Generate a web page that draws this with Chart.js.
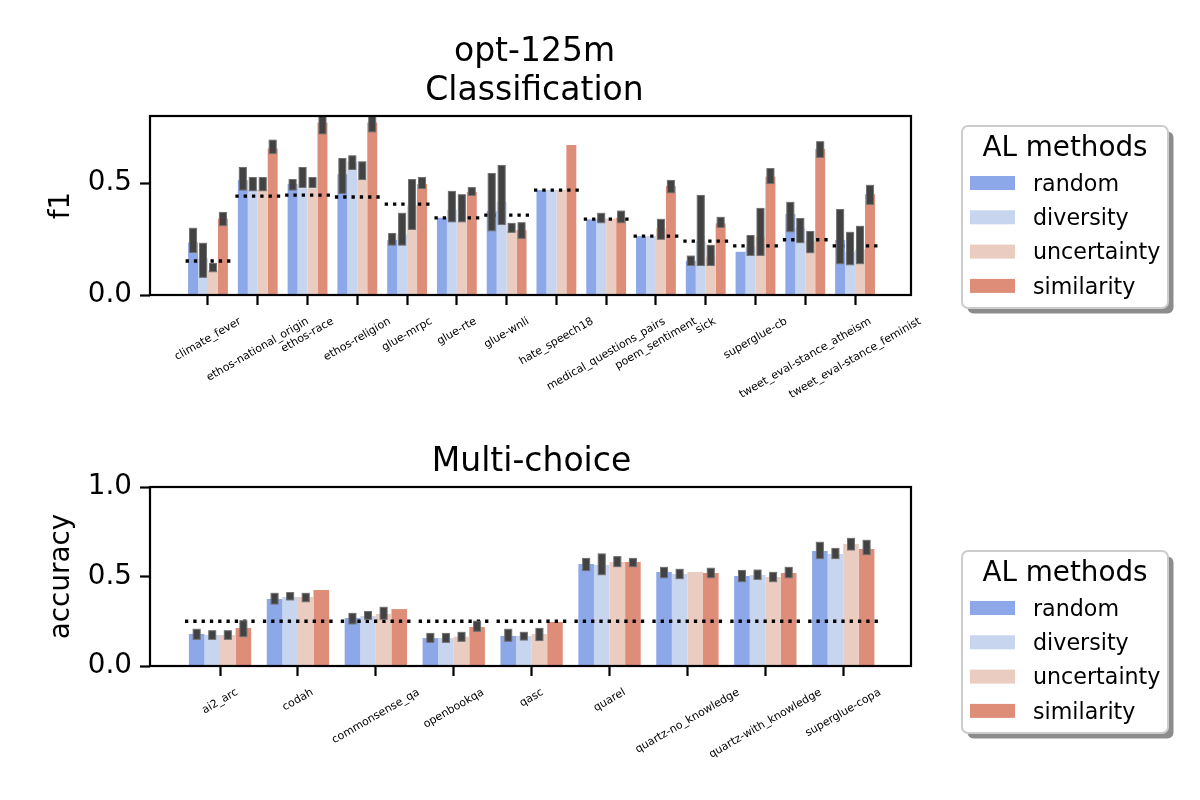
<!DOCTYPE html>
<html>
<head>
<meta charset="utf-8">
<script src="https://cdn.jsdelivr.net/npm/chart.js@4.4.1/dist/chart.umd.min.js"></script>
<style>
body { margin: 0; background: #fff; width: 1200px; height: 800px; overflow: hidden; }
canvas { position: absolute; left: 0; }
#top { top: 0; }
#bottom { top: 420px; }
</style>
</head>
<body>
<canvas id="top" width="1200" height="420"></canvas>
<canvas id="bottom" width="1200" height="380"></canvas>
<script>
// AL methods, same order in both panels
var methods = ["random", "diversity", "uncertainty", "similarity"];
var colors = ["#8ca8e8", "#c8d5ee", "#eacdc0", "#de8e78"];

// --- Classification (f1) ---
var clsCats = ["climate_fever", "ethos-national_origin", "ethos-race", "ethos-religion", "glue-mrpc", "glue-rte", "glue-wnli",
  "hate_speech18", "medical_questions_pairs", "poem_sentiment", "sick", "superglue-cb",
  "tweet_eval-stance_atheism", "tweet_eval-stance_feminist"];
var clsRandom      = [0.235, 0.513, 0.496, 0.540, 0.246, 0.345, 0.375, 0.469, 0.338, 0.263, 0.152, 0.193, 0.362, 0.246];
var clsDiversity   = [0.164, 0.470, 0.476, 0.595, 0.270, 0.380, 0.417, 0.469, 0.342, 0.263, 0.241, 0.216, 0.300, 0.193];
var clsUncertainty = [0.110, 0.470, 0.476, 0.516, 0.400, 0.327, 0.287, 0.469, 0.342, 0.298, 0.171, 0.260, 0.241, 0.204];
var clsSimilarity  = [0.342, 0.655, 0.771, 0.771, 0.496, 0.460, 0.290, 0.670, 0.345, 0.487, 0.320, 0.528, 0.652, 0.451];
// error bar ends (null = no visible bar)
var clsRandomLo      = [0.190, 0.469, 0.469, 0.454, 0.223, null, 0.287, null, null, null, 0.132, null, 0.283, 0.140];
var clsRandomHi      = [0.298, 0.570, 0.516, 0.610, 0.275, null, 0.543, null, null, null, 0.174, null, 0.414, 0.382];
var clsDiversityLo   = [0.079, 0.466, 0.480, 0.561, 0.223, 0.327, 0.315, null, 0.323, null, 0.132, 0.177, 0.234, 0.135];
var clsDiversityHi   = [0.231, 0.525, 0.570, 0.622, 0.365, 0.463, 0.579, null, 0.365, null, 0.445, 0.266, 0.342, 0.280];
var clsUncertaintyLo = [0.104, 0.466, 0.480, 0.516, 0.293, 0.327, 0.280, null, null, 0.249, 0.132, 0.177, 0.189, 0.140];
var clsUncertaintyHi = [0.141, 0.525, 0.525, 0.595, 0.516, 0.448, 0.320, null, null, 0.338, 0.222, 0.387, 0.284, 0.307];
var clsSimilarityLo  = [0.310, 0.632, 0.720, 0.729, 0.476, 0.445, 0.253, null, 0.323, 0.457, 0.302, 0.498, 0.615, 0.405];
var clsSimilarityHi  = [0.369, 0.692, 0.830, 0.830, 0.525, 0.480, 0.323, null, 0.375, 0.512, 0.347, 0.565, 0.685, 0.490];
var clsChance = [0.152, 0.442, 0.446, 0.438, 0.406, 0.345, 0.357, 0.469, 0.339, 0.263, 0.241, 0.220, 0.247, 0.220];
var clsTicks = [0, 0.5];

// --- Multi-choice (accuracy) ---
var mcCats = ["ai2_arc", "codah", "commonsense_qa", "openbookqa", "qasc", "quarel",
  "quartz-no_knowledge", "quartz-with_knowledge", "superglue-copa"];
var mcRandom      = [0.179, 0.374, 0.268, 0.156, 0.168, 0.570, 0.525, 0.503, 0.642];
var mcDiversity   = [0.173, 0.385, 0.279, 0.156, 0.168, 0.564, 0.514, 0.508, 0.626];
var mcUncertainty = [0.173, 0.385, 0.290, 0.164, 0.179, 0.581, 0.525, 0.497, 0.682];
var mcSimilarity  = [0.212, 0.425, 0.318, 0.218, 0.246, 0.581, 0.520, 0.520, 0.654];
var mcRandomLo      = [0.149, 0.346, 0.235, 0.132, 0.138, 0.533, 0.493, 0.471, 0.600];
var mcRandomHi      = [0.205, 0.406, 0.294, 0.182, 0.205, 0.601, 0.551, 0.534, 0.691];
var mcDiversityLo   = [0.149, 0.369, 0.261, 0.132, 0.145, 0.510, 0.488, 0.484, 0.600];
var mcDiversityHi   = [0.197, 0.410, 0.304, 0.182, 0.188, 0.626, 0.540, 0.536, 0.657];
var mcUncertaintyLo = [0.149, 0.359, 0.261, 0.138, 0.142, 0.555, null, 0.471, 0.648];
var mcUncertaintyHi = [0.197, 0.406, 0.328, 0.188, 0.210, 0.611, null, 0.523, 0.713];
var mcSimilarityLo  = [0.164, null, null, 0.194, null, 0.555, 0.493, 0.493, 0.622];
var mcSimilarityHi  = [0.253, null, null, 0.250, null, 0.601, 0.546, 0.551, 0.702];
var mcChance = [0.25, 0.25, 0.25, 0.25, 0.25, 0.25, 0.25, 0.25, 0.25];
var mcTicks = [0, 0.5, 1.0];

Chart.defaults.font.family = "'DejaVu Sans', sans-serif";
Chart.defaults.color = "#000";

// error bars, frame, titles, rotated category names and the legend box
function decoPlugin(spec) {
  return {
    id: "deco",
    afterDatasetsDraw: function(chart) {
      var ctx = chart.ctx, ys = chart.scales.y, a = chart.chartArea;
      ctx.save();
      ctx.beginPath();
      ctx.rect(a.left, a.top, a.right - a.left, a.bottom - a.top);
      ctx.clip();
      for (var d = 0; d < methods.length; d++) {
        var lo = spec.lo[d], hi = spec.hi[d];
        chart.getDatasetMeta(d).data.forEach(function(bar, i) {
          if (lo[i] == null) return;
          var y1 = ys.getPixelForValue(hi[i]), y2 = ys.getPixelForValue(lo[i]);
          ctx.fillStyle = "#424242";
          ctx.fillRect(bar.x - 3.5, y1, 7, y2 - y1);
          ctx.strokeStyle = "#707070";
          ctx.lineWidth = 1;
          ctx.strokeRect(bar.x - 3.5, y1, 7, y2 - y1);
        });
      }
      ctx.restore();
    },
    afterDraw: function(chart) {
      var ctx = chart.ctx, a = chart.chartArea, xs = chart.scales.x;
      ctx.save();
      // axes frame
      ctx.strokeStyle = "#000";
      ctx.lineWidth = 2.2;
      ctx.strokeRect(a.left, a.top, a.right - a.left, a.bottom - a.top);

      // title lines, baseline of last line just above the frame
      ctx.fillStyle = "#000";
      ctx.font = "33px 'DejaVu Sans'";
      ctx.textAlign = "center";
      ctx.textBaseline = "alphabetic";
      var cx = (a.left + a.right) / 2;
      for (var t = 0; t < spec.title.length; t++) {
        var back = spec.title.length - 1 - t;
        ctx.fillText(spec.title[t], cx + spec.titleShift, a.top - 16 - back * 39);
      }

      // category names, rotated 30 deg, centred under each tick
      var ang = 30 * Math.PI / 180;
      ctx.font = "11px 'DejaVu Sans'";
      ctx.textBaseline = "middle";
      spec.cats.forEach(function(c, i) {
        var x = xs.getPixelForValue(i);
        var w = ctx.measureText(c).width, h = 11 * 1.164;
        var H = w * Math.sin(ang) + h * Math.cos(ang);
        ctx.save();
        ctx.translate(x, a.bottom + 20 + H / 2);
        ctx.rotate(-ang);
        ctx.fillText(c, 0, 0);
        ctx.restore();
      });

      // legend
      var L = 962, T = spec.legendTop, W = 206, LH = 182;
      ctx.fillStyle = "rgba(0,0,0,0.45)";
      ctx.beginPath();
      ctx.roundRect(L + 5.5, T + 5.5, W, LH, 6);
      ctx.fill();
      ctx.fillStyle = "#fff";
      ctx.beginPath();
      ctx.roundRect(L, T, W, LH, 6);
      ctx.fill();
      ctx.strokeStyle = "#cccccc";
      ctx.lineWidth = 2;
      ctx.stroke();
      ctx.fillStyle = "#000";
      ctx.font = "27.8px 'DejaVu Sans'";
      ctx.textAlign = "center";
      ctx.fillText("AL methods", L + W / 2, T + 23);
      ctx.font = "22.2px 'DejaVu Sans'";
      ctx.textAlign = "left";
      chart.data.datasets.slice(0, methods.length).forEach(function(ds, k) {
        var yc = T + 57 + k * 34.3;
        ctx.fillStyle = ds.backgroundColor;
        ctx.fillRect(L + 8, yc - 7, 45, 14);
        ctx.fillStyle = "#000";
        ctx.fillText(ds.label, L + 71, yc + 2);
      });
      ctx.restore();
    }
  };
}

function makeChart(id, spec) {
  var datasets = methods.map(function(m, d) {
    return {
      label: m,
      data: spec.values[d].map(function(v, i) { return { x: i, y: v }; }),
      backgroundColor: colors[d],
      borderWidth: 0,
      categoryPercentage: 0.8,
      barPercentage: 1.0
    };
  });
  // chance level: one dotted segment per category
  var dots = [];
  spec.chance.forEach(function(c, i) {
    dots.push({ x: i - 0.45, y: c }, { x: i + 0.45, y: c }, { x: i + 0.5, y: null });
  });
  datasets.push({
    type: "line",
    label: "chance",
    data: dots,
    borderColor: "#000",
    borderWidth: 3.3,
    borderDash: [3.3, 5],
    pointRadius: 0,
    fill: false,
    spanGaps: false,
    order: -1
  });

  return new Chart(document.getElementById(id), {
    type: "bar",
    data: { datasets: datasets },
    plugins: [decoPlugin(spec)],
    options: {
      responsive: false,
      animation: false,
      devicePixelRatio: 1,
      layout: { padding: { left: 40, right: 289, top: spec.padTop, bottom: 0 } },
      plugins: { legend: { display: false }, tooltip: { enabled: false } },
      scales: {
        x: {
          type: "linear",
          min: spec.xMin,
          max: spec.xMax,
          offset: false,
          border: { display: false },
          grid: { offset: false, drawOnChartArea: false, tickLength: 10, tickWidth: 2.2, tickColor: "#000" },
          ticks: { display: false },
          afterBuildTicks: function(s) { s.ticks = spec.cats.map(function(c, i) { return { value: i }; }); },
          afterFit: function(s) { s.height = spec.xHeight; }
        },
        y: {
          min: 0,
          max: spec.yMax,
          border: { display: false },
          grid: { drawOnChartArea: false, tickLength: 10, tickWidth: 2.2, tickColor: "#000" },
          ticks: {
            padding: 8,
            color: "#000",
            font: { size: 27.8 },
            callback: function(v) { return v.toFixed(1); }
          },
          afterBuildTicks: function(s) { s.ticks = spec.yTicks.map(function(v) { return { value: v }; }); },
          title: { display: true, text: spec.yLabel, color: "#000", font: { size: 27.8 }, padding: { top: 5, bottom: 0 } },
          afterFit: function(s) { s.width = 110; }
        }
      }
    }
  });
}

makeChart("top", {
  cats: clsCats,
  values: [clsRandom, clsDiversity, clsUncertainty, clsSimilarity],
  lo: [clsRandomLo, clsDiversityLo, clsUncertaintyLo, clsSimilarityLo],
  hi: [clsRandomHi, clsDiversityHi, clsUncertaintyHi, clsSimilarityHi],
  chance: clsChance,
  yTicks: clsTicks,
  yMax: 0.8,
  yLabel: "f1",
  title: ["opt-125m", "Classification"],
  titleShift: 4,
  xMin: -1.165,
  xMax: 14.124,
  padTop: 116,
  xHeight: 125,
  legendTop: 126
});

makeChart("bottom", {
  cats: mcCats,
  values: [mcRandom, mcDiversity, mcUncertainty, mcSimilarity],
  lo: [mcRandomLo, mcDiversityLo, mcUncertaintyLo, mcSimilarityLo],
  hi: [mcRandomHi, mcDiversityHi, mcUncertaintyHi, mcSimilarityHi],
  chance: mcChance,
  yTicks: mcTicks,
  yMax: 1.0,
  yLabel: "accuracy",
  title: ["Multi-choice"],
  titleShift: 1,
  xMin: -0.899,
  xMax: 8.87,
  padTop: 67,
  xHeight: 134,
  legendTop: 131
});
</script>
</body>
</html>
